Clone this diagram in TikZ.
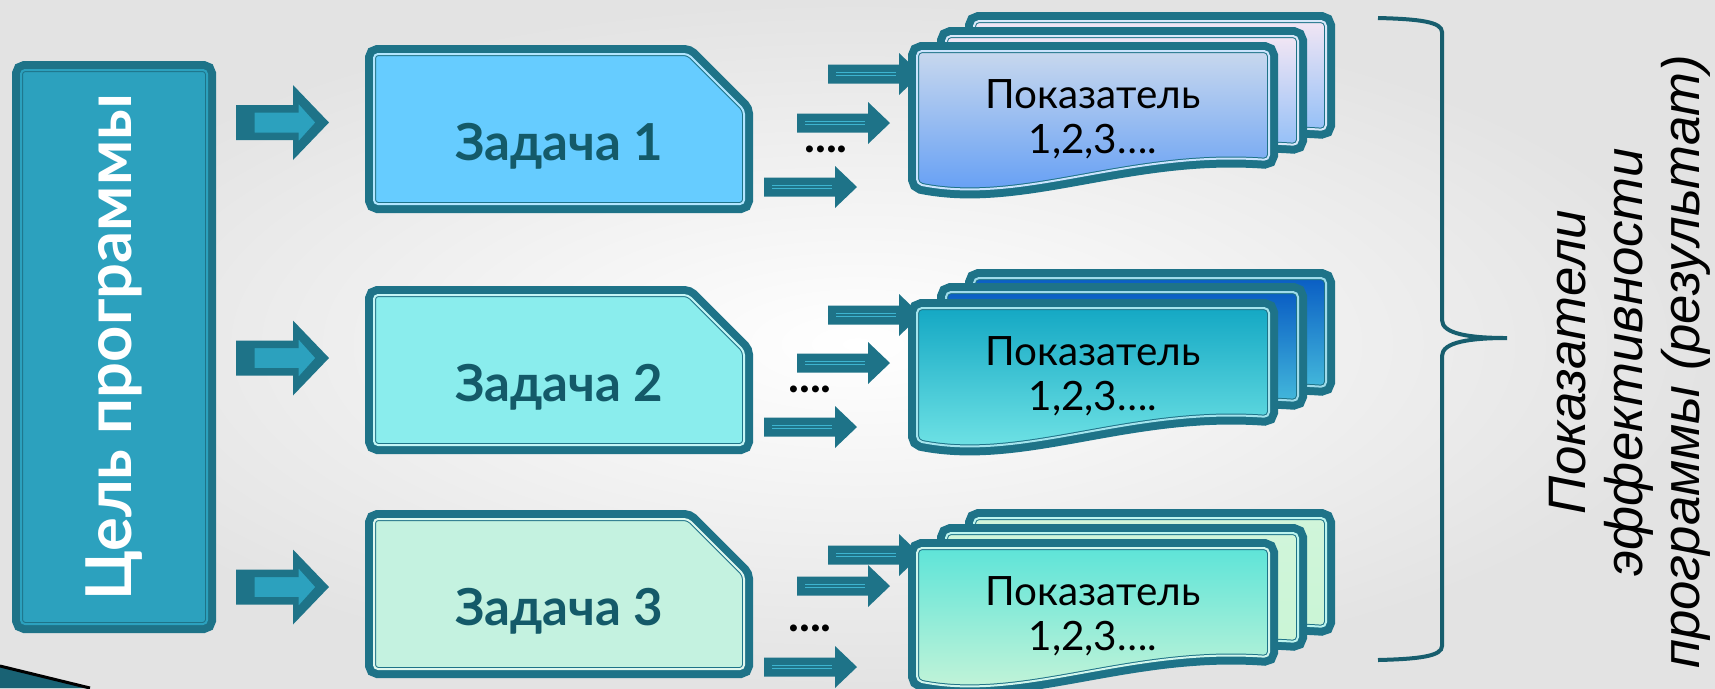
\documentclass[tikz,border=0pt]{standalone}
\usepackage{fontspec}
\setmainfont{Lato}
\newfontfamily\arialfont{Liberation Sans}
\usetikzlibrary{shapes.misc}

\definecolor{framedark}{HTML}{1E7388}
\definecolor{goalfill}{HTML}{2CA1BE}
\definecolor{taskA}{HTML}{66CCFF}
\definecolor{taskB}{HTML}{8AEDED}
\definecolor{taskC}{HTML}{C4F2E0}
\definecolor{tasktext}{HTML}{145A69}
\definecolor{bracecol}{HTML}{175E6E}
\definecolor{shaftline}{HTML}{3DB4D0}
% card colours: top, middle, bottom
\definecolor{backAt}{HTML}{F2E6F4}\definecolor{backAm}{HTML}{A8CCF2}\definecolor{backAb}{HTML}{6EB0F8}
\definecolor{frontAt}{HTML}{C8D8EE}\definecolor{frontAm}{HTML}{8CC4FA}\definecolor{frontAb}{HTML}{5C9AF5}
\definecolor{backBt}{HTML}{0A5EC4}\definecolor{backBm}{HTML}{2AB0D0}\definecolor{backBb}{HTML}{5ADCE4}
\definecolor{frontBt}{HTML}{14A8C4}\definecolor{frontBm}{HTML}{38C4D8}\definecolor{frontBb}{HTML}{78E8E8}
\definecolor{backCt}{HTML}{D0F5DA}\definecolor{backCm}{HTML}{6AE6DA}\definecolor{backCb}{HTML}{C8F5D4}
\definecolor{frontCt}{HTML}{5EE4D8}\definecolor{frontCm}{HTML}{9AEAD8}\definecolor{frontCb}{HTML}{CCF5D8}

\tikzset{
  boxframe/.style={draw=framedark, line width=0.1mm, double distance=0.2mm,
    preaction={draw=framedark, line width=1.8mm}, rounded corners=0.4mm},
  taskbox/.style={boxframe, chamfered rectangle, chamfered rectangle corners=north east,
    chamfered rectangle xsep=2.6mm, chamfered rectangle ysep=3mm,
    minimum width=37mm, minimum height=15mm, inner sep=0pt,
    text=tasktext, font=\fontsize{14.5}{16}\bfseries\selectfont,
    text height=6.2mm, text depth=0mm},
  cardtext/.style={align=center, font=\fontsize{11.5}{12.8}\selectfont},
  dotstext/.style={font=\fontsize{13}{14}\bfseries\selectfont},
  pics/bigarrow/.style={code={
    \fill[framedark] (0,-17.5) -- (57,-17.5) -- (57,-37.5) -- (93,0) -- (57,37.5) -- (57,17.5) -- (0,17.5) -- cycle;
    \filldraw[fill=goalfill, draw=framedark, line width=0.1mm] (18,-10.5) -- (62,-10.5) -- (62,-20) -- (80,0) -- (62,20) -- (62,10.5) -- (18,10.5) -- cycle;
  }},
  pics/smallarrow/.style={code={
    \fill[framedark] (0,-9.5) -- (71,-9.5) -- (71,-21) -- (93,0) -- (71,21) -- (71,9.5) -- (0,9.5) -- cycle;
    \draw[shaftline, line width=0.1mm] (8,-1.8) -- (68,-1.8) (8,1.8) -- (68,1.8);
  }},
  pics/card/.style n args={3}{code={
    \draw[boxframe, rounded corners=0.5mm, top color=#1, middle color=#2, bottom color=#3, double=#2!45!white]
      (8,8) -- (360,8) -- (360,117) .. controls (219,107) and (114,162) .. (8,141) -- cycle;
  }}
}

\begin{document}
\begin{tikzpicture}[x=0.1mm, y=-0.1mm]
\useasboundingbox (0,0) rectangle (1715,688);

% Background
\shade[inner color=white, outer color=black!11] (0,0) rectangle (1715,688);
\fill[framedark!85!black] (0,666) -- (90,688) -- (0,688) -- cycle;
\draw[black, line width=0.3mm] (0,666) -- (90,688);

% Goal
\node[boxframe, rotate=90, fill=goalfill, double=goalfill, minimum width=55.4mm, minimum height=18.6mm,
  inner sep=0pt, text=white, font=\fontsize{18}{20}\bfseries\selectfont] (goal) at (114,347) {Цель программы};

\pic at (236,122.5) {bigarrow};
\pic at (236,358) {bigarrow};
\pic at (236,587) {bigarrow};

% Tasks
\node[taskbox, fill=taskA, double=taskA!50!white] (task1) at (559,129) {Задача 1};
\node[taskbox, fill=taskB, double=taskB!50!white] (task2) at (559,370) {Задача 2};
\node[taskbox, fill=taskC, double=taskC!50!white] (task3) at (559,594) {Задача 3};

% Arrows to indicators
\pic at (828,74) {smallarrow};
\pic at (797,123) {smallarrow};
\pic at (764,187) {smallarrow};
\pic at (828,315) {smallarrow};
\pic at (797,363) {smallarrow};
\pic at (764,427) {smallarrow};
\pic at (828,555) {smallarrow};
\pic at (797,586) {smallarrow};
\pic at (764,667) {smallarrow};

\node[dotstext] (dots1) at (826,149) {....};
\node[dotstext] (dots2) at (810,389) {....};
\node[dotstext] (dots3) at (810,628) {....};

% Indicator cards
\pic at (966,13) {card={backAt}{backAm}{backAb}};
\pic at (938,28) {card={backAt}{backAm}{backAb}};
\pic at (909,43) {card={frontAt}{frontAm}{frontAb}};
\pic at (966,270) {card={backBt}{backBm}{backBb}};
\pic at (938,284) {card={backBt}{backBm}{backBb}};
\pic at (909,300) {card={frontBt}{frontBm}{frontBb}};
\pic at (966,510) {card={backCt}{backCm}{backCb}};
\pic at (938,525) {card={backCt}{backCm}{backCb}};
\pic at (909,540) {card={frontCt}{frontCm}{frontCb}};

\node[cardtext] (ind1) at (1093,119) {Показатель\\1,2,3….};
\node[cardtext] (ind2) at (1093,376) {Показатель\\1,2,3….};
\node[cardtext] (ind3) at (1093,616) {Показатель\\1,2,3….};

% Brace and result
\draw[bracecol, line width=0.4mm] (1378,18) .. controls (1420,19) and (1442,22) .. (1442,32) -- (1442,320)
  .. controls (1442,334) and (1470,338) .. (1507,338) .. controls (1470,338) and (1442,342) .. (1442,356)
  -- (1442,646) .. controls (1442,656) and (1420,659) .. (1378,660);
\node[rotate=90, align=center, inner sep=0pt, font=\arialfont\itshape\fontsize{15}{16.2}\selectfont] (result) at (1630,362)
  {Показатели\\эффективности\\программы (результат)};
\end{tikzpicture}
\end{document}
